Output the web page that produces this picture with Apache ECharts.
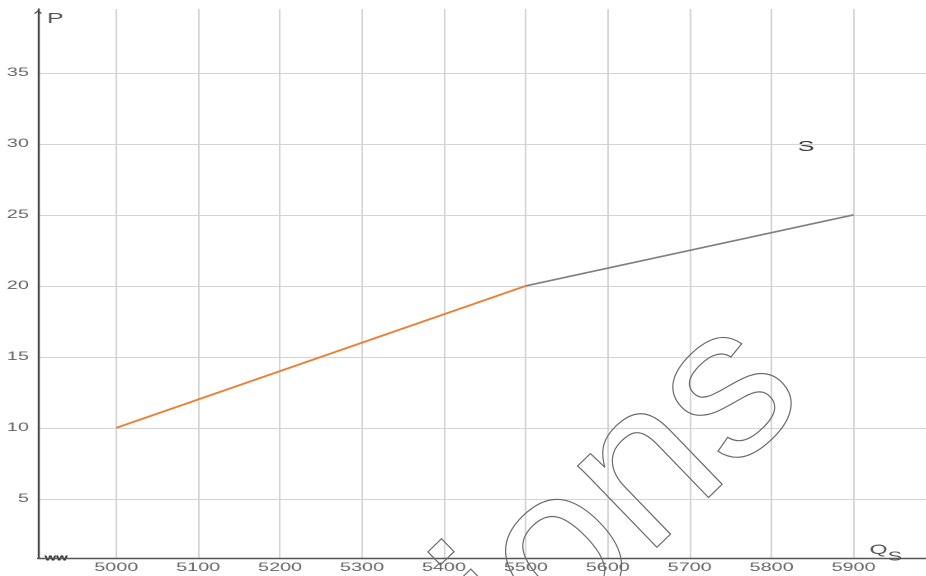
<!DOCTYPE html>
<html>
<head>
<meta charset="utf-8">
<script src="https://cdn.jsdelivr.net/npm/echarts@6/dist/echarts.min.js"></script>
<style>
html,body{margin:0;padding:0;background:#fff;overflow:hidden;width:926px;height:576px;position:relative;}
#chart{position:absolute;left:0;top:0;height:576px;transform-origin:0 0;}
#mark{position:absolute;left:0;top:0;width:926px;height:576px;pointer-events:none;}
</style>
</head>
<body>
<div id="chart"></div>
<div id="mark"></div>
<script>
// ---- data ----
const xTicks = [5000, 5100, 5200, 5300, 5400, 5500, 5600, 5700, 5800, 5900];
const yTicks = [5, 10, 15, 20, 25, 30, 35];
const lowerQ = [5000, 5500];
const lowerP = [10, 20];
const upperQ = [5500, 5900];
const upperP = [20, 25];
const seriesLabel = 'S';
const xName = 'Q';
const xNameSub = 'S';
const yName = 'P';
const watermark = 'tions';

// ---- layout ----
const K = 1.65;               // horizontal stretch of the reference picture
const W = 926 / K;
const el = document.getElementById('chart');
el.style.width = W + 'px';
el.style.transform = 'scaleX(' + K + ')';

const chart = echarts.init(el, null, {renderer: 'canvas', devicePixelRatio: 2});
const font = 'Liberation Sans, Arial, sans-serif';
const pairs = (xs, ys) => xs.map((x, i) => [x, ys[i]]);
const plain = v => String(v);

chart.setOption({
  animation: false,
  backgroundColor: '#fff',
  grid: {left: 38 / K, right: 0, top: 9, bottom: 17.5, containLabel: false},
  xAxis: {
    type: 'value', min: 4904.5, max: 5988,
    axisLine: {show: true, lineStyle: {color: '#555', width: 1.4}},
    axisTick: {show: false, customValues: xTicks},
    axisLabel: {customValues: xTicks, formatter: plain, color: '#666', fontSize: 12, fontFamily: font, margin: 3},
    splitLine: {show: true, lineStyle: {color: '#d4d4d4', width: 1}}
  },
  yAxis: {
    type: 'value', min: 0.8, max: 39.5,
    axisLine: {show: true, lineStyle: {color: '#444', width: 1.2},
      symbol: ['none', 'path://M0,6 L5,0 L10,6 L8,7 L5,3 L2,7 Z'], symbolSize: [5, 7], symbolOffset: [0, -3]},
    axisTick: {show: false, customValues: yTicks},
    axisLabel: {customValues: yTicks, formatter: plain, color: '#666', fontSize: 12, fontFamily: font, margin: 5.5},
    splitLine: {show: true, lineStyle: {color: '#d4d4d4', width: 1}}
  },
  series: [
    {type: 'line', data: pairs(lowerQ, lowerP), symbol: 'none', lineStyle: {color: '#ed7d31', width: 1.7}, z: 3},
    {type: 'line', data: pairs(upperQ, upperP), symbol: 'none', lineStyle: {color: '#7f7f7f', width: 1.7}, z: 3}
  ],
  graphic: [
    {type: 'text', x: 28.5, y: 19, style: {text: yName, font: '15px ' + font, fill: '#555', textVerticalAlign: 'middle'}},
    {type: 'text', x: 488.5, y: 147, style: {text: seriesLabel, font: '15px ' + font, fill: '#333', textAlign: 'center', textVerticalAlign: 'middle'}},
    {type: 'text', x: 527, y: 550, style: {text: xName, font: '14px ' + font, fill: '#555', textVerticalAlign: 'middle'}},
    {type: 'text', x: 538, y: 557, style: {text: xNameSub, font: '13px ' + font, fill: '#555', textVerticalAlign: 'middle'}},
    {type: 'text', x: 27, y: 558, style: {text: 'ww', font: 'bold 9px ' + font, fill: '#222', textVerticalAlign: 'middle'}}
  ]
});

// watermark overlay (not stretched)
const mark = echarts.init(document.getElementById('mark'), null, {renderer: 'canvas', devicePixelRatio: 2});
mark.setOption({
  animation: false,
  graphic: [
    {type: 'text', x: 605, y: 515, rotation: 44 * Math.PI / 180,
      style: {text: watermark, font: '215px ' + font, fill: 'none', stroke: '#6a6a6a', lineWidth: 1.2,
        textAlign: 'center', textVerticalAlign: 'middle'}}
  ]
});
</script>
</body>
</html>
